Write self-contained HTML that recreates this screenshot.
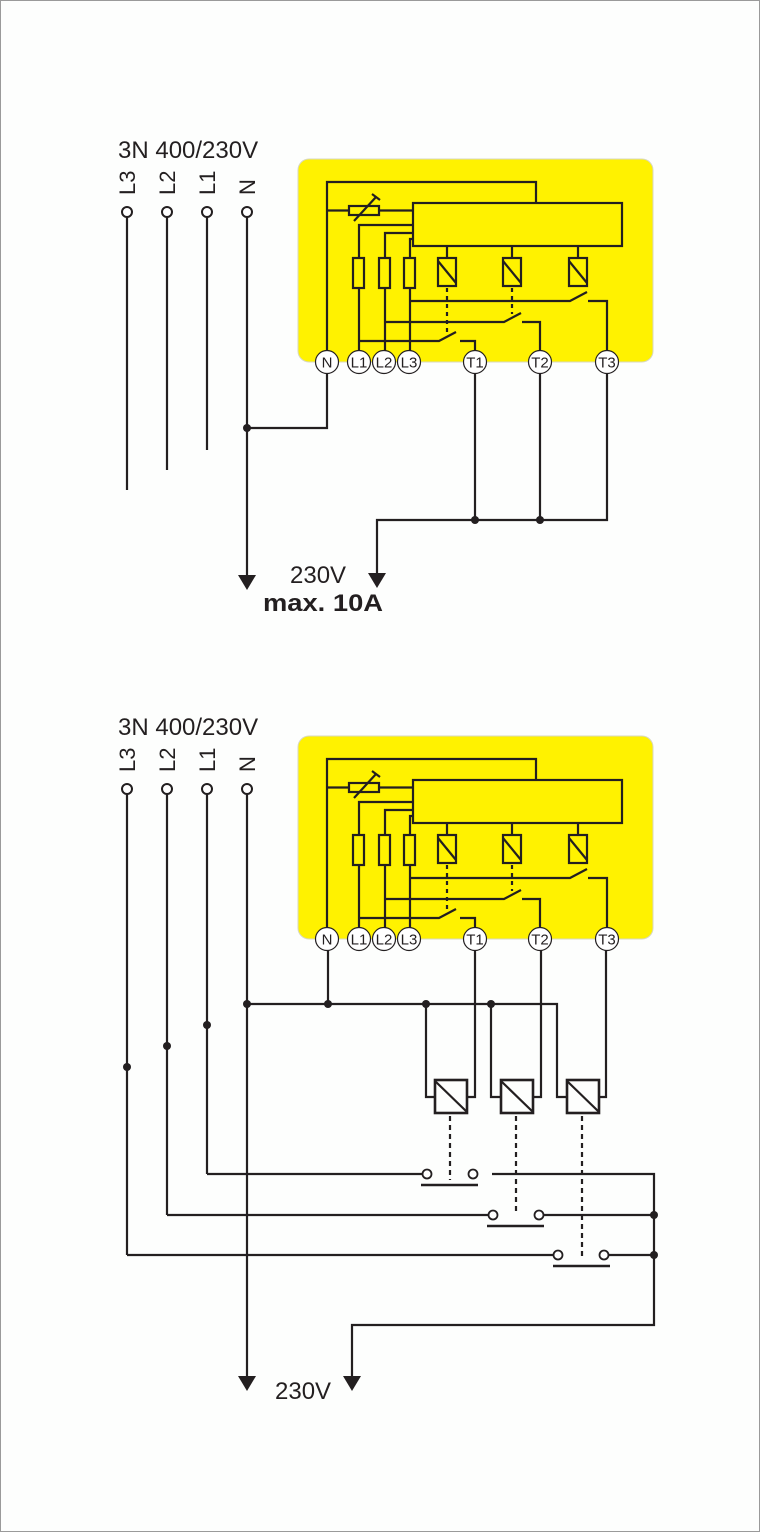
<!DOCTYPE html>
<html><head><meta charset="utf-8"><style>
html,body{margin:0;padding:0;background:#fff}
svg{display:block}
text{font-family:"Liberation Sans",Arial,sans-serif;fill:#231f20}
</style></head><body>
<svg width="760" height="1532" viewBox="0 0 760 1532" xmlns="http://www.w3.org/2000/svg">
<rect x="0.5" y="0.5" width="759" height="1531" fill="#fdfefd" stroke="#9a9a9a"/>
<defs>
<g id="mod">
<rect x="298" y="159" width="355" height="203" rx="11" fill="#fff200" stroke="#d8d8c0" stroke-width="1"/>
<g fill="none" stroke="#231f20" stroke-width="2.2">
<polyline points="327,362 327,182 536,182 536,203"/>
<rect x="413" y="203" width="209" height="43"/>
<line x1="327" y1="210.5" x2="349" y2="210.5"/>
<line x1="379" y1="210.5" x2="413" y2="210.5"/>
<rect x="349" y="206" width="30" height="9"/>
<line x1="354" y1="221" x2="376" y2="197"/>
<line x1="372" y1="194" x2="380" y2="200"/>
<polyline points="359,362 359,225 413,225"/>
<polyline points="385,362 385,233 413,233"/>
<polyline points="410,362 410,239 413,239"/>
<rect x="353" y="258" width="11" height="30" fill="#fff200"/>
<rect x="379" y="258" width="11" height="30" fill="#fff200"/>
<rect x="404" y="258" width="11" height="30" fill="#fff200"/>
<line x1="447" y1="246" x2="447" y2="258"/>
<line x1="512" y1="246" x2="512" y2="258"/>
<line x1="578" y1="246" x2="578" y2="258"/>
<rect x="438" y="258" width="18" height="28"/>
<line x1="438" y1="261" x2="456" y2="283"/>
<rect x="503" y="258" width="18" height="28"/>
<line x1="503" y1="261" x2="521" y2="283"/>
<rect x="569" y="258" width="18" height="28"/>
<line x1="569" y1="261" x2="587" y2="283"/>
<line x1="447" y1="288" x2="447" y2="337" stroke-dasharray="4,4"/>
<line x1="512" y1="288" x2="512" y2="314" stroke-dasharray="4,4"/>
<polyline points="410,301 570,301 587,292"/>
<polyline points="588,301 607,301 607,362"/>
<polyline points="385,322 504,322 521,313"/>
<polyline points="522,322 540,322 540,362"/>
<polyline points="359,341 439,341 456,332"/>
<polyline points="460,341 475,341 475,362"/>
</g>
<g fill="#fff" stroke="#231f20" stroke-width="1.2">
<circle cx="327" cy="362" r="11.5"/><circle cx="359" cy="362" r="11.5"/><circle cx="384" cy="362" r="11.5"/><circle cx="409" cy="362" r="11.5"/>
<circle cx="475" cy="362" r="11.5"/><circle cx="540" cy="362" r="11.5"/><circle cx="607" cy="362" r="11.5"/>
</g>
<g font-size="15" text-anchor="middle">
<text x="327" y="367.5">N</text><text x="359" y="367.5">L1</text><text x="384" y="367.5">L2</text><text x="409" y="367.5">L3</text>
<text x="475" y="367.5">T1</text><text x="540" y="367.5">T2</text><text x="607" y="367.5">T3</text>
</g>
</g>
<g id="sup">
<text x="118" y="158" font-size="24">3N 400/230V</text>
<g font-size="22">
<text transform="translate(135,195) rotate(-90)">L3</text>
<text transform="translate(175,195) rotate(-90)">L2</text>
<text transform="translate(215,195) rotate(-90)">L1</text>
<text transform="translate(255,195) rotate(-90)">N</text>
</g>
<g fill="#fff" stroke="#231f20" stroke-width="2">
<circle cx="127" cy="212" r="5"/><circle cx="167" cy="212" r="5"/><circle cx="207" cy="212" r="5"/><circle cx="247" cy="212" r="5"/>
</g>
</g>
</defs>

<use href="#mod"/>
<use href="#sup"/>
<g fill="none" stroke="#231f20" stroke-width="2.2">
<line x1="127" y1="217" x2="127" y2="490"/>
<line x1="167" y1="217" x2="167" y2="470"/>
<line x1="207" y1="217" x2="207" y2="450"/>
<line x1="247" y1="217" x2="247" y2="578"/>
<polyline points="247,428 327,428 327,373"/>
<line x1="475" y1="373" x2="475" y2="520"/>
<line x1="540" y1="373" x2="540" y2="520"/>
<polyline points="607,373 607,520 377,520 377,576"/>
</g>
<g fill="#231f20">
<circle cx="247" cy="428" r="4"/><circle cx="475" cy="520" r="4"/><circle cx="540" cy="520" r="4"/>
<polygon points="238,575 256,575 247,590"/>
<polygon points="368,573 386,573 377,588"/>
</g>
<text x="290" y="583" font-size="24">230V</text>
<text x="263" y="611" font-size="24" font-weight="bold" textLength="120" lengthAdjust="spacingAndGlyphs">max. 10A</text>

<use href="#mod" transform="translate(0,577)"/>
<use href="#sup" transform="translate(0,577)"/>
<g fill="none" stroke="#231f20" stroke-width="2.2">
<line x1="127" y1="794" x2="127" y2="1255"/>
<line x1="167" y1="794" x2="167" y2="1215"/>
<line x1="207" y1="794" x2="207" y2="1174"/>
<line x1="247" y1="794" x2="247" y2="1378"/>
<line x1="328" y1="950" x2="328" y2="1004"/>
<polyline points="247,1004 557,1004 557,1097 567,1097"/>
<polyline points="426,1004 426,1097 435,1097"/>
<polyline points="491,1004 491,1097 501,1097"/>
<polyline points="475,950 475,1097 467,1097"/>
<polyline points="541,950 541,1097 533,1097"/>
<polyline points="606,950 606,1097 599,1097"/>
<rect x="435" y="1080" width="32" height="33" stroke-width="2.6"/>
<line x1="435" y1="1081" x2="467" y2="1112"/>
<rect x="501" y="1080" width="32" height="33" stroke-width="2.6"/>
<line x1="501" y1="1081" x2="533" y2="1112"/>
<rect x="567" y="1080" width="32" height="33" stroke-width="2.6"/>
<line x1="567" y1="1081" x2="599" y2="1112"/>
<line x1="450" y1="1116" x2="450" y2="1180" stroke-dasharray="5,4"/>
<line x1="516" y1="1116" x2="516" y2="1215" stroke-dasharray="5,4"/>
<line x1="582" y1="1116" x2="582" y2="1258" stroke-dasharray="5,4"/>
<line x1="207" y1="1174" x2="422" y2="1174"/>
<polyline points="492,1174 654,1174 654,1325 352,1325 352,1378"/>
<line x1="167" y1="1215" x2="488" y2="1215"/>
<line x1="544" y1="1215" x2="654" y2="1215"/>
<line x1="127" y1="1255" x2="553" y2="1255"/>
<line x1="609" y1="1255" x2="654" y2="1255"/>
<line x1="421" y1="1185" x2="478" y2="1185" stroke-width="2.6"/>
<line x1="487" y1="1226" x2="544" y2="1226" stroke-width="2.6"/>
<line x1="553" y1="1266" x2="610" y2="1266" stroke-width="2.6"/>
</g>
<g fill="#fff" stroke="#231f20" stroke-width="1.8">
<circle cx="427" cy="1174" r="4.5"/><circle cx="473" cy="1174" r="4.5"/>
<circle cx="493" cy="1215" r="4.5"/><circle cx="539" cy="1215" r="4.5"/>
<circle cx="558" cy="1255" r="4.5"/><circle cx="604" cy="1255" r="4.5"/>
</g>
<g fill="#231f20">
<circle cx="247" cy="1004" r="4"/><circle cx="328" cy="1004" r="4"/><circle cx="426" cy="1004" r="4"/><circle cx="491" cy="1004" r="4"/>
<circle cx="207" cy="1025" r="4"/><circle cx="167" cy="1046" r="4"/><circle cx="127" cy="1067" r="4"/>
<circle cx="654" cy="1215" r="4"/><circle cx="654" cy="1255" r="4"/>
<polygon points="238,1376 256,1376 247,1391"/>
<polygon points="343,1376 361,1376 352,1391"/>
</g>
<text x="275" y="1399" font-size="24">230V</text>
</svg>
</body></html>
